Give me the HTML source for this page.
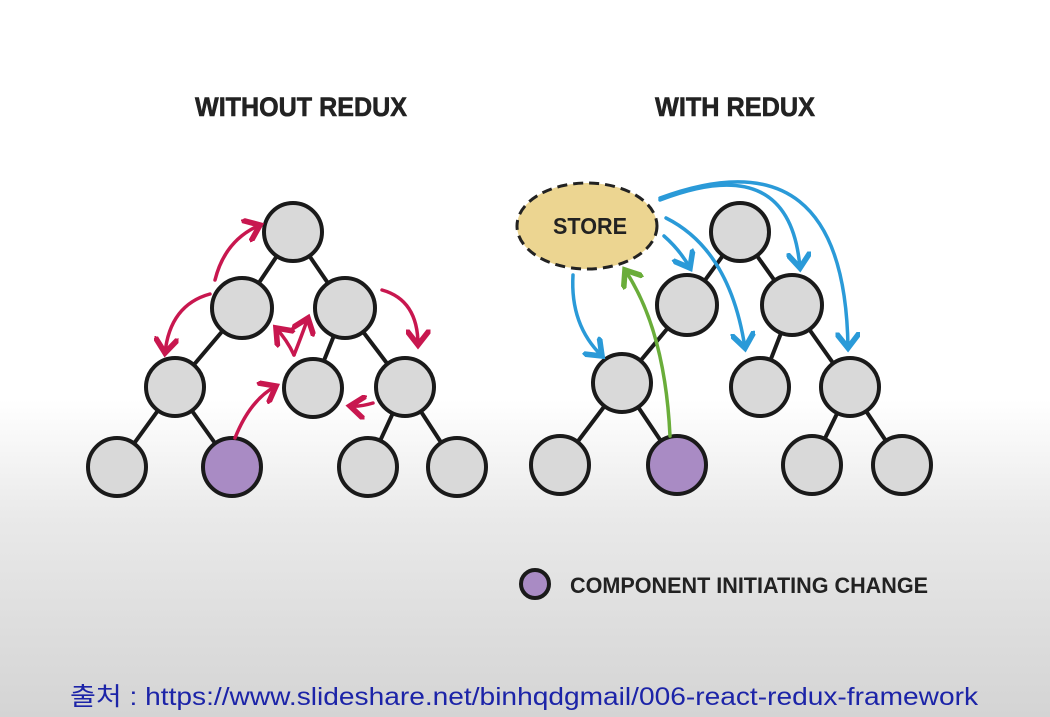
<!DOCTYPE html>
<html><head><meta charset="utf-8"><style>
html,body{margin:0;padding:0;width:1050px;height:717px;overflow:hidden;}
body{background:linear-gradient(#ffffff 0px,#ffffff 400px,#e9e9e9 520px,#d4d4d4 717px);}
</style></head><body>
<svg width="1050" height="717" viewBox="0 0 1050 717" xmlns="http://www.w3.org/2000/svg" style="position:absolute;left:0;top:0">
<defs>
<marker id="mr" markerWidth="7" markerHeight="7" refX="4.5" refY="3.5" orient="auto" markerUnits="strokeWidth"><path d="M0,0 L4.5,3.5 L0,7" fill="none" stroke="#c8174f" stroke-width="1.6"/></marker>
<marker id="mb" markerWidth="7" markerHeight="7" refX="4.5" refY="3.5" orient="auto" markerUnits="strokeWidth"><path d="M0,0 L4.5,3.5 L0,7" fill="none" stroke="#2a9ad8" stroke-width="1.6"/></marker>
<marker id="mg" markerWidth="7" markerHeight="7" refX="4.5" refY="3.5" orient="auto" markerUnits="strokeWidth"><path d="M0,0 L4.5,3.5 L0,7" fill="none" stroke="#6aad3a" stroke-width="1.6"/></marker>
</defs>
<g font-family="Liberation Sans, sans-serif" font-weight="bold" fill="#222" stroke="#222" stroke-width="0.6">
<text x="301" y="116" font-size="27" text-anchor="middle" textLength="212" lengthAdjust="spacingAndGlyphs">WITHOUT REDUX</text>
<text x="735" y="116" font-size="27" text-anchor="middle" textLength="160" lengthAdjust="spacingAndGlyphs">WITH REDUX</text>
</g>
<g stroke="#1a1a1a" stroke-width="4">
<line x1="293" y1="232" x2="242" y2="308"/><line x1="293" y1="232" x2="345" y2="308"/>
<line x1="242" y1="308" x2="175" y2="387"/><line x1="345" y1="308" x2="313" y2="388"/><line x1="345" y1="308" x2="405" y2="387"/>
<line x1="175" y1="387" x2="117" y2="467"/><line x1="175" y1="387" x2="232" y2="467"/>
<line x1="405" y1="387" x2="368" y2="467"/><line x1="405" y1="387" x2="457" y2="467"/>
<line x1="740" y1="232" x2="687" y2="305"/><line x1="740" y1="232" x2="792" y2="305"/>
<line x1="687" y1="305" x2="622" y2="383"/><line x1="792" y1="305" x2="760" y2="387"/><line x1="792" y1="305" x2="850" y2="387"/>
<line x1="622" y1="383" x2="560" y2="465"/><line x1="622" y1="383" x2="677" y2="465"/>
<line x1="850" y1="387" x2="812" y2="465"/><line x1="850" y1="387" x2="902" y2="465"/>
</g>
<g stroke="#1a1a1a" stroke-width="4" fill="#d9d9d9">
<circle cx="293" cy="232" r="29"/><circle cx="242" cy="308" r="30"/><circle cx="345" cy="308" r="30"/>
<circle cx="175" cy="387" r="29"/><circle cx="313" cy="388" r="29"/><circle cx="405" cy="387" r="29"/>
<circle cx="117" cy="467" r="29"/><circle cx="232" cy="467" r="29" fill="#a98bc4"/><circle cx="368" cy="467" r="29"/><circle cx="457" cy="467" r="29"/>
<circle cx="740" cy="232" r="29"/><circle cx="687" cy="305" r="30"/><circle cx="792" cy="305" r="30"/>
<circle cx="622" cy="383" r="29"/><circle cx="760" cy="387" r="29"/><circle cx="850" cy="387" r="29"/>
<circle cx="560" cy="465" r="29"/><circle cx="677" cy="465" r="29" fill="#a98bc4"/><circle cx="812" cy="465" r="29"/><circle cx="902" cy="465" r="29"/>
<circle cx="535" cy="584" r="14" fill="#a98bc4"/>
</g>
<g fill="none" stroke="#c8174f" stroke-width="3.5" stroke-linecap="round">
<path d="M235,438 Q250,400 276,386" marker-end="url(#mr)"/>
<path d="M215,280 Q225,240 260,225" marker-end="url(#mr)"/>
<path d="M210,294 Q170,305 165,353" marker-end="url(#mr)"/>
<path d="M294,355 Q287,340 276,328" marker-end="url(#mr)"/>
<path d="M294,355 Q300,340 308,318" marker-end="url(#mr)"/>
<path d="M382,290 Q418,300 418,345" marker-end="url(#mr)"/>
<path d="M373,403 Q360,407 350,406" marker-end="url(#mr)"/>
</g>
<ellipse cx="587" cy="226" rx="70" ry="43" fill="#ecd591" stroke="#222" stroke-width="3" stroke-dasharray="10,6"/>
<text x="590" y="234" font-family="Liberation Sans, sans-serif" font-weight="bold" font-size="23" fill="#222" text-anchor="middle" textLength="74" lengthAdjust="spacingAndGlyphs">STORE</text>
<g fill="none" stroke="#2a9ad8" stroke-width="3.5" stroke-linecap="round">
<path d="M573,275 Q570,325 602,356" marker-end="url(#mb)"/>
<path d="M664,236 Q680,250 690,268" marker-end="url(#mb)"/>
<path d="M666,218 Q730,250 745,348" marker-end="url(#mb)"/>
<path d="M660,200 Q790,150 800,268" marker-end="url(#mb)"/>
<path d="M660,198 Q845,130 848,348" marker-end="url(#mb)"/>
</g>
<path d="M670,436 Q665,330 625,270" fill="none" stroke="#6aad3a" stroke-width="3.5" stroke-linecap="round" marker-end="url(#mg)"/>
<text x="570" y="593" font-family="Liberation Sans, sans-serif" font-weight="bold" font-size="22" fill="#222" textLength="358" lengthAdjust="spacingAndGlyphs">COMPONENT INITIATING CHANGE</text>
<text x="70" y="705" font-family="Liberation Sans, 'Noto Sans CJK KR', sans-serif" font-size="25" fill="#1c24a8" textLength="908" lengthAdjust="spacingAndGlyphs">출처 : https://www.slideshare.net/binhqdgmail/006-react-redux-framework</text>
</svg>
</body></html>
